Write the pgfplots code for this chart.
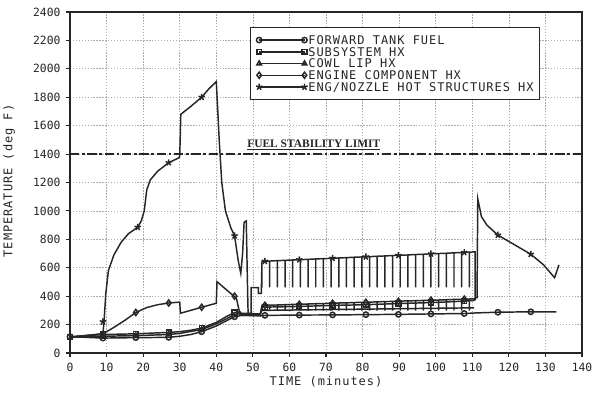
\documentclass[border=0pt]{standalone}
\usepackage{fontspec}
\setmainfont{DejaVu Sans Mono}
\newfontfamily\lettering[LetterSpace=8]{DejaVu Sans Mono}
\newfontfamily\serifb{Liberation Serif}
\usepackage{pgfplots}
\pgfplotsset{compat=1.18}
\definecolor{ink}{gray}{0.15}
\begin{document}
\begin{tikzpicture}
\useasboundingbox (-52.5pt,-32.25pt) rectangle (392.25pt,264.75pt);
\begin{axis}[
  at={(0pt,0pt)}, anchor=south west, scale only axis,
  width=384pt, height=255.75pt,
  xmin=0, xmax=140, ymin=0, ymax=2400,
  xtick={0,10,...,140}, ytick={0,200,...,2400},
  grid=major,
  major grid style={gray!65, line width=0.5pt, dash pattern=on 1pt off 1.2pt},
  axis line style={line width=1.3pt, ink},
  tick align=outside, major tick length=3pt,
  tick style={ink, line width=0.8pt},
  xtick pos=left, ytick pos=left,
  /pgf/number format/assume math mode=true,
  /pgf/number format/set thousands separator={},
  ticklabel style={font=\fontsize{8.5}{10}\selectfont, text=ink},
  yticklabel style={inner sep=0pt, xshift=-4pt},
  xticklabel style={inner sep=0pt, yshift=-4pt},
  clip=false,
  legend style={at={(axis cs:49.2,2295)}, anchor=north west, draw=ink, line width=1.1pt,
     fill=white, font=\lettering\fontsize{9}{9}\selectfont, text=ink,
     inner xsep=4pt, inner ysep=5.5pt, row sep=1.2pt,
     nodes={inner sep=0.5pt, text height=6.6pt, text depth=0pt}},
  legend cell align=left,
  legend image code/.code={\draw plot coordinates {(0pt,0pt)(34pt,0pt)};},
  every axis plot/.append style={line width=1.1pt, ink},
]
% legend
\addlegendimage{line width=1.1pt, ink, mark=o, mark options={fill=white}, mark size=2pt}
\addlegendentry{FORWARD TANK FUEL}
\addlegendimage{line width=1.1pt, ink, mark=square, mark options={fill=white}, mark size=1.8pt}
\addlegendentry{SUBSYSTEM HX}
\addlegendimage{line width=1.1pt, ink, mark=triangle, mark options={fill=white}, mark size=2pt}
\addlegendentry{COWL LIP HX}
\addlegendimage{line width=1.1pt, ink, mark=diamond, mark options={fill=white}, mark size=2.3pt}
\addlegendentry{ENGINE COMPONENT HX}
\addlegendimage{line width=1.1pt, ink, mark=star, mark size=2.5pt}
\addlegendentry{ENG/NOZZLE HOT STRUCTURES HX}

% fuel stability limit
\addplot[forget plot, ink, line width=0.9pt, dash pattern=on 7pt off 2pt on 2pt off 2pt] coordinates {(0,1400)(140,1400)};

% forward tank fuel
\addplot[forget plot] coordinates {(0,115)(9,105)(18,108)(27,110)(30,118)(33,130)(36,150)(40,190)(43,230)(45,255)(47,265)(50,265)(52,262)(54,265)(63,267)(72,268)(81,270)(90,272)(99,275)(108,278)(111,282)(117,287)(126,290)(133,290)};
\addplot[forget plot, only marks, mark=o, mark options={fill=white}, mark size=2pt] coordinates {(0,115)(9,105)(18,108)(27,110)(36,150)(45,255)(53.3,265)(62.7,267)(71.8,268)(80.9,270)(89.8,272)(98.7,275)(107.8,278)(117,287)(126,290)};

% cowl lip
\addplot[forget plot] coordinates {(0,112)(9,118)(18,122)(27,130)(30,138)(36,165)(40,205)(45,270)(47,280)(52,275)(52.5,300)(110.5,318)};
\addplot[forget plot, only marks, mark=triangle, mark options={fill=white}, mark size=2pt] coordinates {(9,118)(18,122)(27,130)(36,165)};

% subsystem
\addplot[forget plot] coordinates {(0,115)(9,130)(18,135)(27,145)(30,150)(33,160)(36,175)(40,215)(43,260)(45,285)(46.5,290)(47,265)(52,262)(52.5,322)(54,323)(63,328)(72,335)(81,340)(90,348)(99,355)(108,365)(110.5,370)(111,380)};
\addplot[forget plot, only marks, mark=square, mark options={fill=white}, mark size=1.8pt] coordinates {(0,115)(9,130)(18,135)(27,145)(36,175)(45,285)(53.3,323)(62.7,328)(71.8,335)(80.9,340)(89.8,348)(98.7,355)(107.8,365)};

% engine component
\addplot[forget plot] coordinates {(0,110)(9,135)(12,180)(15,230)(18,285)(21,320)(24,340)(27,352)(30,358)(30.2,280)(33,300)(36,322)(40,350)(40.2,502)(43,440)(45.5,385)(46.5,270)(52,270)
(52.5,335)(52.5,298)(52.5,335)
(54.6,337)(54.6,298)(54.6,337)
(56.7,338)(56.7,298)(56.7,338)
(58.8,340)(58.8,298)(58.8,340)
(60.9,342)(60.9,298)(60.9,342)
(63.0,343)(63.0,298)(63.0,343)
(65.1,345)(65.1,298)(65.1,345)
(67.2,347)(67.2,298)(67.2,347)
(69.3,348)(69.3,298)(69.3,348)
(71.4,350)(71.4,298)(71.4,350)
(73.5,352)(73.5,298)(73.5,352)
(75.6,353)(75.6,298)(75.6,353)
(77.7,355)(77.7,298)(77.7,355)
(79.8,357)(79.8,298)(79.8,357)
(81.9,358)(81.9,298)(81.9,358)
(84.0,360)(84.0,298)(84.0,360)
(86.1,362)(86.1,298)(86.1,362)
(88.2,363)(88.2,298)(88.2,363)
(90.3,365)(90.3,298)(90.3,365)
(92.4,367)(92.4,298)(92.4,367)
(94.5,368)(94.5,298)(94.5,368)
(96.6,370)(96.6,298)(96.6,370)
(98.7,372)(98.7,298)(98.7,372)
(100.8,373)(100.8,298)(100.8,373)
(102.9,375)(102.9,298)(102.9,375)
(105.0,377)(105.0,298)(105.0,377)
(107.1,378)(107.1,298)(107.1,378)
(109.2,380)(109.2,298)(109.2,380)
(110.8,382)(111.0,385)};
\addplot[forget plot, only marks, mark=diamond, mark options={fill=white}, mark size=2.3pt] coordinates {(18,285)(27,352)(36,322)(45,400)(53.3,336)(62.7,343)(71.8,350)(80.9,357)(89.8,364)(98.7,372)(107.8,379)};

% eng/nozzle hot structures
\addplot[forget plot] coordinates {(0,112)(9,135)(9.3,220)(9.8,420)(10.5,580)(12,690)(14,780)(16,840)(18.5,885)(19.5,930)(20.3,1000)(21,1150)(22,1220)(24,1280)(27,1340)(29.5,1370)(30,1380)(30.3,1680)(33,1735)(36,1800)(38,1860)(40,1910)(40.3,1760)(40.8,1500)(41.5,1200)(42.5,1000)(44,880)(45,825)(46,650)(46.7,560)(47.2,700)(47.6,920)(48.2,930)(48.5,520)(48.7,280)(49.5,278)(49.5,460)(51.5,460)(51.5,420)(52.3,420)
(52.5,645)(52.5,462)(52.5,645)
(54.6,647)(54.6,462)(54.6,647)
(56.7,650)(56.7,462)(56.7,650)
(58.8,652)(58.8,462)(58.8,652)
(60.9,655)(60.9,462)(60.9,655)
(63.0,657)(63.0,462)(63.0,657)
(65.1,659)(65.1,462)(65.1,659)
(67.2,662)(67.2,462)(67.2,662)
(69.3,664)(69.3,462)(69.3,664)
(71.4,666)(71.4,462)(71.4,666)
(73.5,669)(73.5,462)(73.5,669)
(75.6,671)(75.6,462)(75.6,671)
(77.7,674)(77.7,462)(77.7,674)
(79.8,676)(79.8,462)(79.8,676)
(81.9,678)(81.9,462)(81.9,678)
(84.0,681)(84.0,462)(84.0,681)
(86.1,683)(86.1,462)(86.1,683)
(88.2,686)(88.2,462)(88.2,686)
(90.3,688)(90.3,462)(90.3,688)
(92.4,690)(92.4,462)(92.4,690)
(94.5,693)(94.5,462)(94.5,693)
(96.6,695)(96.6,462)(96.6,695)
(98.7,698)(98.7,462)(98.7,698)
(100.8,700)(100.8,462)(100.8,700)
(102.9,702)(102.9,462)(102.9,702)
(105.0,705)(105.0,462)(105.0,705)
(107.1,707)(107.1,462)(107.1,707)
(109.2,710)(109.2,462)(109.2,710)
(110.8,712)(110.8,390)(111.3,390)(111.5,1085)(112.5,960)(114,900)(117,830)(121,770)(126,695)(129.5,620)(132.5,530)(133.7,620)};
\addplot[forget plot, only marks, mark=star, mark size=2.5pt] coordinates {(9,220)(18.5,885)(27,1340)(36,1800)(45,825)(53.3,646)(62.7,657)(71.8,667)(80.9,677)(89.8,687)(98.7,698)(107.8,708)(117,830)(126,695)};

\node[anchor=base west, inner sep=0pt, font=\serifb\bfseries\fontsize{8.6}{9}\selectfont, text=ink] at (axis cs:48.4,1445) {\underline{FUEL STABILITY LIMIT}};
\end{axis}
\node[rotate=90, font=\lettering\fontsize{9}{9}\selectfont, text=ink] at (-45.75pt,129pt) {TEMPERATURE (deg F)};
\node[font=\lettering\fontsize{9}{9}\selectfont, text=ink] at (192pt,-21.75pt) {TIME (minutes)};
\end{tikzpicture}
\end{document}
